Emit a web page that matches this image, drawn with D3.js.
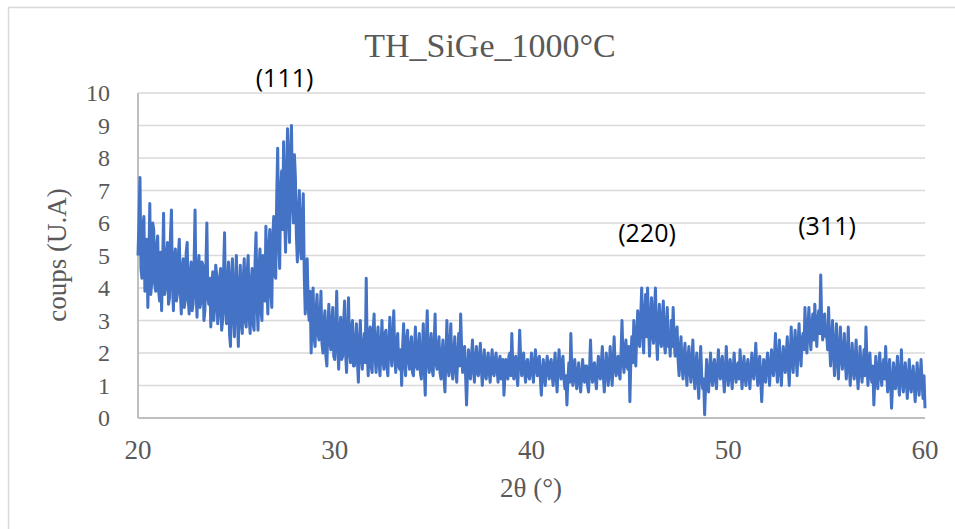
<!DOCTYPE html>
<html>
<head>
<meta charset="utf-8">
<script src="https://cdn.jsdelivr.net/npm/d3@7/dist/d3.min.js"></script>
<style>
  body { margin: 0; background: #fff; }
  svg { display: block; }
</style>
</head>
<body>
<svg id="chart"></svg>
<script>
const title = "TH_SiGe_1000°C";
const xLabel = "2θ (°)";
const yLabel = "coups (U.A)";

// scan starts at 20° with a 0.05° step, one row per degree
const startAngle = 20;
const stepAngle = 0.05;
const counts = [
  5.0, 6.1, 7.4, 4.6, 4.3, 5.9, 6.2, 3.9, 4.0, 5.5, 3.4, 4.8, 6.6, 3.8, 4.2, 6.0, 5.8, 4.1, 3.9, 5.3, // 20
  5.6, 3.9, 3.6, 5.1, 3.3, 4.7, 6.3, 3.8, 4.0, 5.0, 5.4, 3.5, 3.7, 5.6, 6.4, 4.1, 3.3, 4.9, 5.2, 3.6, // 21
  3.8, 5.0, 5.5, 3.9, 3.2, 4.6, 4.9, 3.4, 3.6, 5.1, 5.4, 3.7, 3.2, 4.4, 4.8, 3.3, 3.5, 4.7, 6.4, 3.9, // 22
  3.1, 4.5, 5.0, 3.4, 3.6, 4.8, 4.7, 3.0, 3.3, 4.6, 6.0, 3.7, 3.5, 4.3, 2.8, 4.1, 4.5, 3.0, 3.4, 4.7, // 23
  4.4, 2.9, 3.2, 4.3, 4.6, 2.7, 3.0, 4.5, 5.7, 3.3, 2.9, 4.2, 4.8, 2.6, 2.2, 4.4, 4.9, 3.1, 2.5, 4.1, // 24
  5.0, 3.2, 2.2, 4.0, 4.7, 2.9, 2.6, 4.3, 4.9, 3.0, 2.8, 4.5, 5.0, 3.1, 2.6, 4.2, 4.6, 2.9, 2.7, 4.8, // 25
  5.7, 3.5, 2.7, 4.6, 5.2, 3.3, 3.0, 5.0, 4.9, 3.6, 5.9, 4.2, 3.2, 5.3, 5.8, 3.9, 3.4, 5.6, 6.2, 4.4, // 26
  4.3, 6.8, 8.3, 5.5, 4.6, 7.0, 7.6, 5.8, 8.5, 6.3, 5.1, 7.4, 8.9, 6.1, 5.4, 8.2, 9.0, 6.6, 6.0, 8.1, // 27
  7.4, 5.6, 4.8, 6.3, 7.0, 5.2, 4.9, 6.1, 6.9, 4.4, 3.2, 4.6, 4.9, 3.4, 3.0, 3.9, 2.0, 3.1, 4.0, 2.5, // 28
  2.2, 3.3, 3.8, 2.6, 2.4, 3.1, 3.9, 2.3, 2.0, 2.9, 3.3, 1.9, 1.6, 2.8, 3.5, 2.4, 2.1, 3.0, 3.4, 1.9, // 29
  1.8, 2.7, 3.9, 2.2, 1.5, 2.6, 3.1, 1.8, 1.9, 2.9, 3.6, 2.0, 1.4, 2.5, 3.7, 2.1, 1.7, 2.8, 3.0, 1.6, // 30
  1.6, 2.4, 2.9, 1.8, 1.1, 2.3, 3.0, 1.9, 1.5, 2.2, 2.6, 1.7, 4.3, 2.0, 1.3, 2.5, 2.8, 1.6, 1.4, 2.7, // 31
  3.2, 1.9, 1.4, 2.4, 2.8, 1.7, 1.3, 2.2, 3.0, 1.8, 1.5, 2.6, 2.7, 1.6, 1.3, 2.3, 3.1, 2.0, 1.6, 2.5, // 32
  3.3, 1.9, 1.4, 2.3, 2.6, 1.6, 1.5, 2.1, 1.0, 2.2, 2.9, 1.7, 1.3, 2.4, 2.7, 1.8, 1.5, 2.2, 2.5, 1.4, // 33
  1.3, 2.1, 2.8, 1.6, 1.5, 2.2, 2.6, 1.4, 1.2, 2.0, 2.9, 1.5, 0.7, 2.3, 3.3, 1.8, 1.4, 2.2, 2.6, 1.5, // 34
  1.3, 2.2, 3.2, 1.7, 1.5, 2.1, 2.5, 1.4, 1.2, 2.0, 2.4, 1.3, 0.8, 1.9, 3.0, 1.6, 1.3, 2.3, 2.9, 1.5, // 35
  1.2, 2.0, 2.5, 1.5, 1.1, 1.9, 2.6, 1.6, 3.2, 2.1, 1.4, 2.0, 2.2, 1.3, 0.4, 1.5, 2.1, 1.3, 1.2, 1.9, // 36
  2.4, 1.5, 1.1, 1.8, 2.2, 1.4, 1.3, 1.9, 2.3, 1.5, 1.0, 1.7, 2.1, 1.3, 1.2, 1.8, 2.0, 1.4, 1.1, 1.7, // 37
  2.1, 1.4, 1.3, 1.8, 2.0, 1.5, 1.1, 1.7, 1.9, 1.2, 1.4, 1.8, 0.7, 1.3, 1.8, 1.5, 1.2, 1.9, 2.0, 1.3, // 38
  2.6, 1.6, 1.2, 1.8, 1.9, 1.3, 1.0, 1.7, 2.7, 1.8, 1.3, 1.6, 2.0, 1.4, 1.1, 1.7, 1.8, 1.3, 1.2, 1.6, // 39
  2.0, 1.4, 1.1, 1.7, 2.1, 1.5, 1.3, 1.8, 1.9, 1.2, 0.7, 1.4, 1.8, 1.3, 1.0, 1.6, 1.9, 1.4, 1.2, 1.7, // 40
  1.8, 1.3, 1.0, 1.6, 2.0, 1.3, 0.8, 1.5, 2.1, 1.5, 1.2, 1.7, 1.9, 1.2, 0.9, 1.3, 0.4, 1.2, 1.7, 1.1, // 41
  2.6, 1.5, 1.0, 1.5, 1.8, 1.2, 0.9, 1.4, 1.7, 1.1, 0.8, 1.3, 1.8, 1.2, 1.1, 1.6, 1.6, 1.0, 0.8, 1.5, // 42
  2.4, 1.4, 1.1, 1.6, 1.7, 1.2, 0.9, 1.5, 1.9, 1.3, 1.2, 1.7, 2.2, 1.3, 0.8, 1.4, 2.0, 1.5, 1.0, 1.6, // 43
  2.2, 1.4, 1.0, 1.7, 2.5, 1.6, 1.3, 1.8, 1.9, 1.4, 1.2, 2.0, 3.0, 1.8, 1.4, 2.1, 2.4, 1.6, 1.5, 2.2, // 44
  0.5, 1.8, 2.5, 1.7, 3.0, 2.1, 1.6, 2.6, 3.3, 2.4, 2.2, 3.1, 4.0, 2.7, 2.0, 3.2, 3.8, 2.5, 4.0, 2.8, // 45
  1.9, 3.0, 3.7, 2.6, 2.3, 3.3, 4.0, 2.5, 1.8, 2.9, 3.5, 2.4, 2.2, 3.1, 3.6, 2.3, 2.0, 2.8, 3.4, 2.2, // 46
  2.4, 1.9, 3.0, 2.2, 3.4, 2.4, 1.9, 2.6, 2.8, 1.8, 1.3, 2.1, 2.5, 1.6, 1.2, 1.9, 2.3, 1.5, 1.0, 1.8, // 47
  2.2, 1.5, 1.1, 1.7, 2.4, 1.4, 0.9, 1.6, 2.0, 1.2, 0.6, 1.5, 2.2, 1.3, 0.9, 1.2, 0.1, 1.0, 1.8, 1.2, // 48
  0.8, 1.4, 2.0, 1.3, 1.0, 1.6, 1.8, 1.2, 0.9, 1.5, 2.1, 1.4, 1.2, 1.7, 1.9, 1.3, 0.8, 1.4, 2.2, 1.5, // 49
  1.0, 1.5, 1.8, 1.3, 0.9, 1.5, 2.0, 1.4, 1.1, 1.6, 1.7, 1.2, 2.1, 1.5, 0.9, 1.4, 1.9, 1.3, 1.0, 1.6, // 50
  1.8, 1.3, 0.9, 1.5, 2.0, 1.4, 1.2, 1.7, 2.3, 1.5, 1.0, 1.6, 1.9, 1.2, 0.5, 1.3, 1.8, 1.4, 1.1, 1.7, // 51
  2.0, 1.5, 1.0, 1.6, 2.1, 1.5, 1.3, 1.9, 2.6, 1.6, 1.1, 1.8, 2.4, 1.5, 1.0, 1.7, 2.2, 1.6, 1.4, 2.0, // 52
  2.5, 1.6, 1.0, 1.9, 2.8, 1.8, 1.4, 2.2, 2.7, 1.9, 1.3, 2.3, 2.9, 2.0, 1.6, 2.4, 2.6, 2.1, 3.4, 2.3, // 53
  2.0, 2.8, 3.4, 2.5, 2.1, 2.9, 3.2, 2.4, 3.5, 2.7, 2.2, 3.0, 3.3, 2.6, 4.4, 2.9, 2.4, 3.1, 3.2, 2.5, // 54
  2.6, 2.1, 3.4, 2.3, 1.6, 2.4, 3.0, 2.0, 1.3, 2.2, 2.9, 1.8, 1.2, 2.1, 2.8, 1.9, 1.5, 2.0, 2.6, 1.7, // 55
  1.2, 1.9, 2.8, 1.6, 1.0, 1.7, 2.3, 1.5, 1.2, 1.8, 2.4, 1.4, 0.9, 1.6, 2.2, 1.5, 1.1, 1.6, 2.1, 1.3, // 56
  2.8, 1.7, 1.0, 1.5, 2.0, 1.3, 1.1, 1.6, 0.4, 1.2, 1.9, 1.3, 0.9, 1.5, 2.0, 1.4, 1.0, 1.5, 1.8, 1.2, // 57
  2.2, 1.4, 0.8, 1.3, 1.8, 1.1, 0.3, 1.0, 1.7, 1.2, 0.9, 1.4, 1.9, 1.1, 0.7, 1.3, 2.1, 1.2, 0.8, 1.4, // 58
  1.7, 1.1, 0.6, 1.2, 1.8, 1.0, 0.8, 1.3, 1.6, 1.0, 0.5, 1.1, 1.7, 1.2, 0.7, 1.2, 1.8, 1.1, 0.6, 1.3, // 59
  0.3                                                                                                  // 60
];

const xTicks = [20, 30, 40, 50, 60];
const yTicks = [0, 1, 2, 3, 4, 5, 6, 7, 8, 9, 10];

// peak labels and where they sit, in data units
const peakNames = ["(111)", "(220)", "(311)"];
const peakX = [27.45, 45.87, 55.02];
const peakY = [10.18, 5.42, 5.63];

const config = {
  width: 955,
  height: 529,
  plot: { left: 138, right: 925, top: 93, bottom: 418 }
};

const serif = "'Liberation Serif', 'Times New Roman', serif";

const points = counts.map((c, i) => ({ x: startAngle + i * stepAngle, y: c }));

const x = d3.scaleLinear().domain([20, 60]).range([config.plot.left, config.plot.right]);
const y = d3.scaleLinear().domain([0, 10]).range([config.plot.bottom, config.plot.top]);

const svg = d3.select("#chart")
  .attr("width", config.width)
  .attr("height", config.height);

// outer chart frame
svg.append("rect")
  .attr("x", 8.5).attr("y", 7.5)
  .attr("width", 1000).attr("height", 1000)
  .attr("fill", "none")
  .attr("stroke", "#d9d9d9")
  .attr("stroke-width", 1.5);

// title
svg.append("text")
  .attr("x", 490).attr("y", 57)
  .attr("text-anchor", "middle")
  .style("font-family", serif)
  .attr("font-size", 34)
  .attr("fill", "#595959")
  .text(title);

// horizontal gridlines
svg.append("g")
  .selectAll("line")
  .data(yTicks.filter(d => d > 0))
  .join("line")
  .attr("x1", config.plot.left).attr("x2", config.plot.right)
  .attr("y1", d => y(d)).attr("y2", d => y(d))
  .attr("stroke", "#d9d9d9")
  .attr("stroke-width", 1.5);

// axes lines
svg.append("line")
  .attr("x1", config.plot.left).attr("x2", config.plot.left)
  .attr("y1", config.plot.top).attr("y2", config.plot.bottom)
  .attr("stroke", "#bfbfbf").attr("stroke-width", 2);
svg.append("line")
  .attr("x1", config.plot.left).attr("x2", config.plot.right)
  .attr("y1", config.plot.bottom).attr("y2", config.plot.bottom)
  .attr("stroke", "#bfbfbf").attr("stroke-width", 2);

// tick labels
svg.append("g")
  .selectAll("text")
  .data(yTicks)
  .join("text")
  .attr("x", 110)
  .attr("y", d => y(d))
  .attr("dy", "0.34em")
  .attr("text-anchor", "end")
  .style("font-family", serif)
  .attr("font-size", 24)
  .attr("fill", "#595959")
  .text(d => d);

svg.append("g")
  .selectAll("text")
  .data(xTicks)
  .join("text")
  .attr("x", d => x(d))
  .attr("y", 459)
  .attr("text-anchor", "middle")
  .style("font-family", serif)
  .attr("font-size", 27)
  .attr("fill", "#595959")
  .text(d => d);

// axis titles
svg.append("text")
  .attr("x", 531).attr("y", 497)
  .attr("text-anchor", "middle")
  .style("font-family", serif)
  .attr("font-size", 27)
  .attr("fill", "#595959")
  .text(xLabel);

svg.append("text")
  .attr("transform", "translate(66,255) rotate(-90)")
  .attr("text-anchor", "middle")
  .style("font-family", serif)
  .attr("font-size", 27)
  .attr("fill", "#595959")
  .text(yLabel);

// the scan itself
const line = d3.line()
  .x(d => x(d.x))
  .y(d => y(d.y));

svg.append("path")
  .datum(points)
  .attr("d", line)
  .attr("fill", "none")
  .attr("stroke", "#4472c4")
  .attr("stroke-width", 3)
  .attr("stroke-linejoin", "round");

// peak annotations
svg.append("g")
  .selectAll("text")
  .data(peakNames)
  .join("text")
  .attr("x", (d, i) => x(peakX[i]))
  .attr("y", (d, i) => y(peakY[i]))
  .attr("text-anchor", "middle")
  .style("font-family", "'Open Sans', sans-serif")
  .attr("font-size", 25)
  .attr("fill", "#000")
  .text(d => d);
</script>
</body>
</html>
